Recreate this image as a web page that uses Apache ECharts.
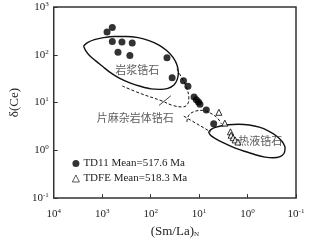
<!DOCTYPE html>
<html><head><meta charset="utf-8">
<script src="https://cdn.jsdelivr.net/npm/echarts@6/dist/echarts.min.js"></script>
<style>html,body{margin:0;padding:0;background:#fff}#c{width:321px;height:243px}</style>
</head><body><div id="c"></div>
<script>
// TD11 (filled circles): [(Sm/La)N, δ(Ce)]
const td11 = [[794,299],[618,373],[618,190],[391,184],[240,176],[472,113],[268,97],[46,87],[36,33],[21,28.5],[17,22],[12.7,13],[11.4,11.5],[10.3,10.3],[9.6,9.2],[7.1,7.0],[5.0,3.6]];
// TDFE (open triangles)
const tdfe = [[3.9,6.25],[2.95,3.7],[2.25,2.44],[2.18,2.07],[1.98,1.84],[1.8,1.65],[1.58,1.49]];
// Field outlines
const magmaticField = [[2427,153],[2011,180],[1445,207],[945,228],[562,241],[319,241],[181,228],[108,198],[67.3,160],[46.1,121],[34.8,89],[28.8,62.5],[26.8,42.9],[28.1,30.9],[33.1,23.3],[44.0,19.8],[64.2,18.9],[98.1,19.3],[157,21.7],[277,26.2],[444,32.4],[711,44.0],[959,56.1],[1378,75.4],[1829,96.8],[2210,124],[2427,153]];
const hydroField = [[6.36,2.44],[5.26,2.88],[3.78,3.19],[2.47,3.43],[1.55,3.51],[0.918,3.39],[0.573,3.05],[0.375,2.56],[0.257,2.02],[0.194,1.53],[0.168,1.12],[0.176,0.869],[0.213,0.736],[0.296,0.697],[0.432,0.72],[0.692,0.809],[1.16,0.955],[1.95,1.15],[3.28,1.46],[4.79,1.80],[5.93,2.12],[6.36,2.44]];
const gneissUpper = [[385,22.2],[157,15.3],[61.2,11.0],[34.8,8.69],[21.7,8.09],[17.2,9.3],[16.3,12.5],[18.8,22.2],[23.8,35.6],[28.8,51.8]];
const gneissLower = [[17.9,3.91],[16.3,5.43],[12.3,6.55],[8.44,6.87],[5.78,5.97],[4.16,4.71],[3.44,3.56]];
const gneissLine = [[20.7,5.18],[5.78,2.44]];
const leader = [[67.3,8.69],[38.2,13.9]];
const fieldLabels = [{name:'岩浆锆石', value:[190,49.4]},{name:'片麻杂岩体锆石', value:[209,4.71]},{name:'热液锆石', value:[0.547,1.6]}];
const legendNames = ['TD11 Mean=517.6 Ma','TDFE Mean=518.3 Ma'];
const xRange = [0.1, 10000];
const yRange = [0.1, 1000];

const serif = '"Liberation Serif","DejaVu Serif",serif';
const cjk = '"Noto Sans CJK SC",sans-serif';
const powLabel = v => { const e = Math.round(Math.log10(v)); return '{b|10}{s|' + e + '}'; };
const rich = {b:{fontFamily:serif,fontSize:11,color:'#222'}, s:{fontFamily:serif,fontSize:7,color:'#222',verticalAlign:'top',padding:[0,0,6,0]}};
const lineS = (data, dashed, w, sm) => ({type:'line', data, smooth: sm || false, symbol:'none', silent:true,
  lineStyle:{color:'#111', width:w||1.3, type: dashed ? [3,2] : 'solid'}, z:1});

const chart = echarts.init(document.getElementById('c'));
chart.setOption({
  animation:false,
  backgroundColor:'#fff',
  grid:{left:52, right:25, top:7, bottom:40, show:true, borderColor:'#333', borderWidth:1.5},
  xAxis:{type:'log', logBase:10, min:xRange[0], max:xRange[1], inverse:true,
    axisLine:{show:false}, axisTick:{show:true, inside:true, length:4, lineStyle:{color:'#333'}},
    splitLine:{show:false}, minorTick:{show:false},
    axisLabel:{formatter:powLabel, rich, margin:10},
    name:'{a|(Sm/La)}{n|N}', nameLocation:'middle', nameGap:23,
    nameTextStyle:{rich:{a:{fontFamily:serif,fontSize:13,color:'#222'}, n:{fontFamily:serif,fontSize:7,color:'#222',verticalAlign:'bottom',padding:[6,0,0,0]}}}},
  yAxis:{type:'log', logBase:10, min:yRange[0], max:yRange[1],
    axisLine:{show:false}, axisTick:{show:true, inside:true, length:4, lineStyle:{color:'#333'}},
    splitLine:{show:false},
    axisLabel:{formatter:powLabel, rich, margin:5},
    name:'δ(Ce)', nameLocation:'middle', nameGap:31, nameRotate:90,
    nameTextStyle:{fontFamily:serif, fontSize:13, color:'#222'}},
  legend:{orient:'vertical', left:67, top:153, itemWidth:7, itemHeight:7, itemGap:4,
    data:[{name:legendNames[0], icon:'circle'},{name:legendNames[1], icon:'triangle', itemStyle:{borderWidth:0.8}}],
    textStyle:{fontFamily:serif, fontSize:11, color:'#222', padding:[0,0,0,-1]}},
  series:[
    lineS(magmaticField,false,1.4,0.3),
    lineS(hydroField,false,1.4,0.3),
    lineS(gneissUpper,true,1,0.4),
    lineS(gneissLower,true,1,0.4),
    lineS(gneissLine,true,1),
    lineS(leader,false,0.8),
    {type:'scatter', name:legendNames[0], data:td11, symbol:'circle', symbolSize:7, itemStyle:{color:'#000'}, z:3},
    {type:'scatter', name:legendNames[1], data:tdfe, symbol:'triangle', symbolSize:6, itemStyle:{color:'#fff', borderColor:'#000', borderWidth:1}, z:3},
    {type:'scatter', data:fieldLabels, symbolSize:0, silent:true, z:4,
      label:{show:true, position:'inside', formatter:p=>p.name, fontFamily:cjk, fontSize:11, color:'#333'}}
  ]
});
</script></body></html>
